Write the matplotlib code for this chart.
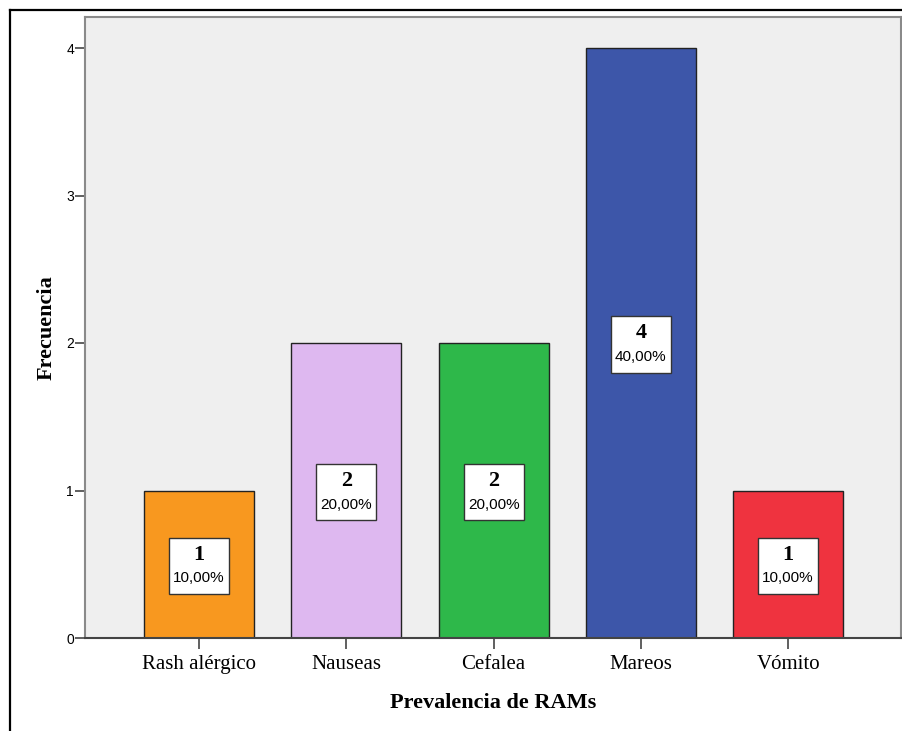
import matplotlib.pyplot as plt
from matplotlib.lines import Line2D
from matplotlib.patches import Rectangle

# datos
categorias = ["Rash alérgico", "Nauseas", "Cefalea", "Mareos", "Vómito"]
frecuencias = [1, 2, 2, 4, 1]
porcentajes = ["10,00%", "20,00%", "20,00%", "40,00%", "10,00%"]
colores = ["#F8981F", "#DEB8F0", "#2EB84A", "#3D56A9", "#EF333F"]

W, H = 902, 731
fig = plt.figure(figsize=(W / 100, H / 100), dpi=100)
fig.patch.set_facecolor("white")

# marco exterior (solo izquierda y arriba visibles)
fig.add_artist(Line2D([9.5 / W, 9.5 / W], [0, 1 - 9.5 / H], color="black", lw=1.6, transform=fig.transFigure))
fig.add_artist(Line2D([9.5 / W, 1], [1 - 9.5 / H, 1 - 9.5 / H], color="black", lw=1.6, transform=fig.transFigure))

ax = fig.add_axes([85 / W, (H - 638) / H, (901 - 85) / W, (638 - 17) / H])
ax.set_facecolor("#EFEFEF")

x = list(range(len(categorias)))
ax.bar(x, frecuencias, width=0.747, color=colores, edgecolor="#222222", linewidth=1.0, zorder=2)

# etiquetas en caja blanca
bw, bh = 0.407, 0.38
for xi, f, p in zip(x, frecuencias, porcentajes):
    yc = f / 2 - 0.01
    ax.add_patch(Rectangle((xi - bw / 2, yc - bh / 2), bw, bh, fc="white", ec="#333333", lw=1.0, zorder=3))
    ax.text(xi, yc + 0.075, str(f), ha="center", va="center", fontsize=16, fontweight="bold",
            family="Liberation Serif", zorder=4)
    ax.text(xi, yc - 0.085, p, ha="center", va="center", fontsize=11, family="Liberation Sans", zorder=4)

ax.set_xlim(-0.774, 4.766)
ax.set_ylim(0, (638 - 17) / 147.5)
ax.set_yticks([0, 1, 2, 3, 4])
ax.set_xticks(x)
ax.set_xticklabels(categorias, family="Liberation Serif", fontsize=15)
for lab in ax.get_yticklabels():
    lab.set_fontsize(10)
    lab.set_family("Liberation Sans")

ax.tick_params(axis="y", length=7, width=1.2, color="#444444", pad=1)
ax.tick_params(axis="x", length=8, width=1.2, color="#444444", pad=4)

for s in ["top", "right", "left"]:
    ax.spines[s].set_color("#8A8A8A")
    ax.spines[s].set_linewidth(1.5)
ax.spines["bottom"].set_color("#444444")
ax.spines["bottom"].set_linewidth(1.5)

ax.set_xlabel("Prevalencia de RAMs", family="Liberation Serif", fontsize=16, fontweight="bold", labelpad=14)
ax.set_ylabel("Frecuencia", family="Liberation Serif", fontsize=16, fontweight="bold", labelpad=7)

fig.savefig("out.png", dpi=100)
